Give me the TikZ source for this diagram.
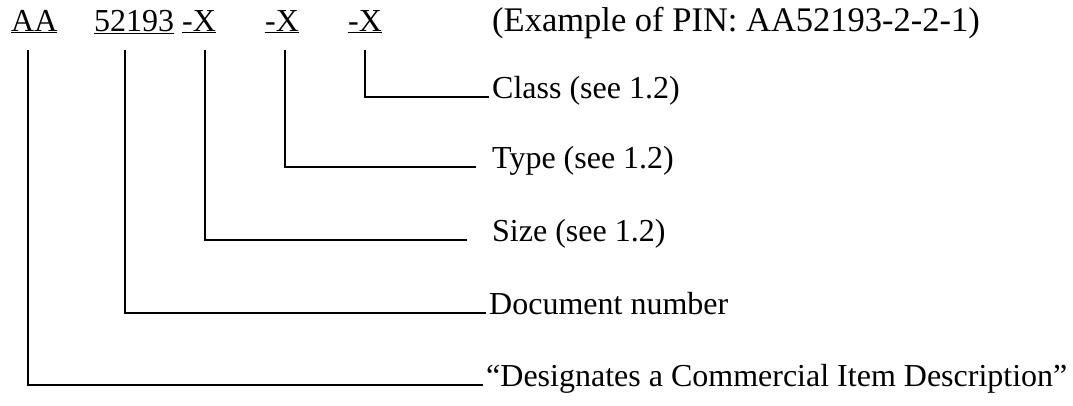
\documentclass[tikz,border=0pt]{standalone}
\usepackage{fontspec}
\setmainfont{Liberation Serif}
\usetikzlibrary{positioning}

\begin{document}
\begin{tikzpicture}[x=1pt, y=-1pt, font=\fontsize{32}{38}\selectfont,
  leader/.style={line width=1.4pt}]
\useasboundingbox (0,0) rectangle (1073,405);

\begin{scope}[every node/.style={inner sep=0pt, anchor=base west}]
\node(aa) at(11,31) {\underline{AA}};
\node(doc) at(94,31) {\underline{52193}};
\node(size) at(182,31) {\underline{-X}};
\node(type) at(265,31) {\underline{-X}};
\node(class) at(348,31) {\underline{-X}};
\node(pin) at(492,31) {\fontsize{34.5}{40}\selectfont (Example of PIN: AA52193-2-2-1)};
\end{scope}

\begin{scope}[every node/.style={inner sep=0pt, anchor=west, text height=0.7em, text depth=0.325em}]
\node(classl) at(492,97) {Class (see 1.2)};
\node(typel) at(492,167) {Type (see 1.2)};
\node(sizel) at(492,240) {Size (see 1.2)};
\node(docl) at(489,313) {Document number};
\node(aal) at(486,385) {``Designates a Commercial Item Description''};
\end{scope}

\coordinate (aatop) at(28,50);
\coordinate (doctop) at(125,50);
\coordinate (sizetop) at(205,50);
\coordinate (typetop) at(285,50);
\coordinate (classtop) at(365,50);

\draw[leader] 
(classtop) |- ([xshift=-3pt]classl.west)
;
\draw[leader] 
(typetop) |- ([xshift=-16pt]typel.west)
;
\draw[leader] 
(sizetop) |- ([xshift=-25pt]sizel.west)
;
\draw[leader] 
(doctop) |- ([xshift=-3pt]docl.west)
;
\draw[leader] 
(aatop) |- ([xshift=-3pt]aal.west)
;

\end{tikzpicture}
\end{document}
